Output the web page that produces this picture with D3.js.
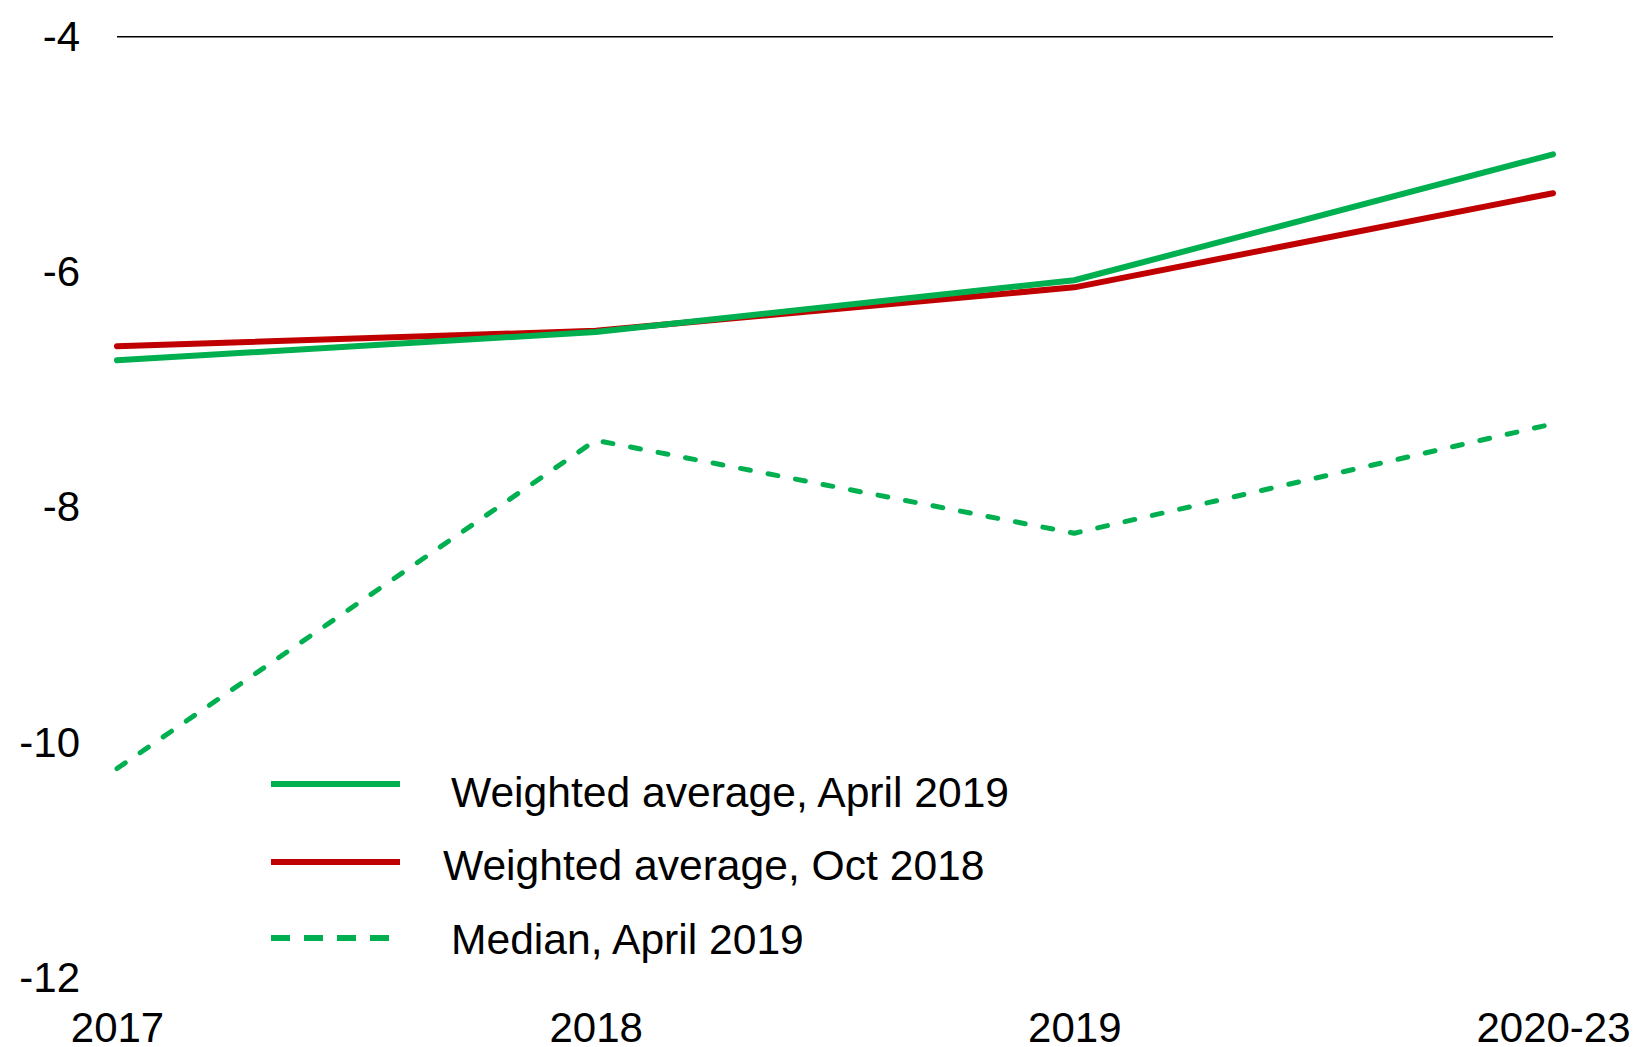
<!DOCTYPE html>
<html>
<head>
<meta charset="utf-8">
<script src="https://cdn.jsdelivr.net/npm/d3@7"></script>
<style>
	html, body { margin: 0; padding: 0; background: #fff; }
	#graphicContainer { width: 1636px; height: 1047px; }
	text { font-family: "Liberation Sans", Arial, sans-serif; fill: #000; }
</style>
</head>
<body>
<div id="graphicContainer"></div>
<script>

var years = ["2017", "2018", "2019", "2020-23"]
var weightedApr19 = [-6.75, -6.51, -6.07, -5.0]
var weightedOct18 = [-6.63, -6.5, -6.13, -5.33]
var medianApr19 = [-10.22, -7.43, -8.22, -7.29]
var yTicks = [-4, -6, -8, -10, -12]
var legendLabels = ["Weighted average, April 2019", "Weighted average, Oct 2018", "Median, April 2019"]

function init() {

	var width = 1636
	var height = 1047

	var svg = d3.select("#graphicContainer").append("svg")
		.attr("width", width)
		.attr("height", height)

	var x = d3.scalePoint()
		.domain(years)
		.range([117, 1553])

	var y = d3.scaleLinear()
		.domain([-12, -4])
		.range([978, 36.7])

	// top line at -4
	svg.append("line")
		.attr("x1", x("2017"))
		.attr("x2", x("2020-23"))
		.attr("y1", y(-4))
		.attr("y2", y(-4))
		.attr("stroke", "#000")
		.attr("stroke-width", 1.5)

	var yAxis = svg.append("g")
		.attr("transform", "translate(80,0)")
		.call(d3.axisLeft(y).tickValues(yTicks).tickSize(0).tickPadding(0).tickFormat(d => String(d)))
	yAxis.select(".domain").remove()
	yAxis.selectAll("text").attr("font-size", 42).attr("font-family", "Liberation Sans, Arial, sans-serif")

	var xAxis = svg.append("g")
		.attr("transform", "translate(0," + y(-12) + ")")
		.call(d3.axisBottom(x).tickSize(0).tickPadding(34))
	xAxis.select(".domain").remove()
	xAxis.selectAll("text").attr("font-size", 42).attr("font-family", "Liberation Sans, Arial, sans-serif")

	var line = d3.line()
		.x((d, i) => x(years[i]))
		.y(d => y(d))

	var series = [
		{ values: weightedOct18, color: "#C00000", dash: null, width: 6 },
		{ values: weightedApr19, color: "#00B050", dash: null, width: 6 },
		{ values: medianApr19, color: "#00B050", dash: "10,18", width: 5 }
	]

	series.forEach(function(s) {
		svg.append("path")
			.datum(s.values)
			.attr("d", line)
			.attr("fill", "none")
			.attr("stroke", s.color)
			.attr("stroke-width", s.width)
			.attr("stroke-linecap", "round")
			.attr("stroke-linejoin", "round")
			.attr("stroke-dasharray", s.dash)
	})

	// legend
	var legendItems = [
		{ label: legendLabels[0], color: "#00B050", dash: null, lineY: 784, textY: 807, textX: 451, x2: 400 },
		{ label: legendLabels[1], color: "#C00000", dash: null, lineY: 862, textY: 880, textX: 443, x2: 400 },
		{ label: legendLabels[2], color: "#00B050", dash: "19,14", lineY: 938, textY: 954, textX: 451, x2: 390 }
	]

	var legend = svg.append("g")
	legendItems.forEach(function(d) {
		legend.append("line")
			.attr("x1", 271)
			.attr("x2", d.x2)
			.attr("y1", d.lineY)
			.attr("y2", d.lineY)
			.attr("stroke", d.color)
			.attr("stroke-width", 6)
			.attr("stroke-dasharray", d.dash)
		legend.append("text")
			.attr("x", d.textX)
			.attr("y", d.textY)
			.attr("font-size", 42.6)
			.text(d.label)
	})
}

init()
</script>
</body>
</html>
